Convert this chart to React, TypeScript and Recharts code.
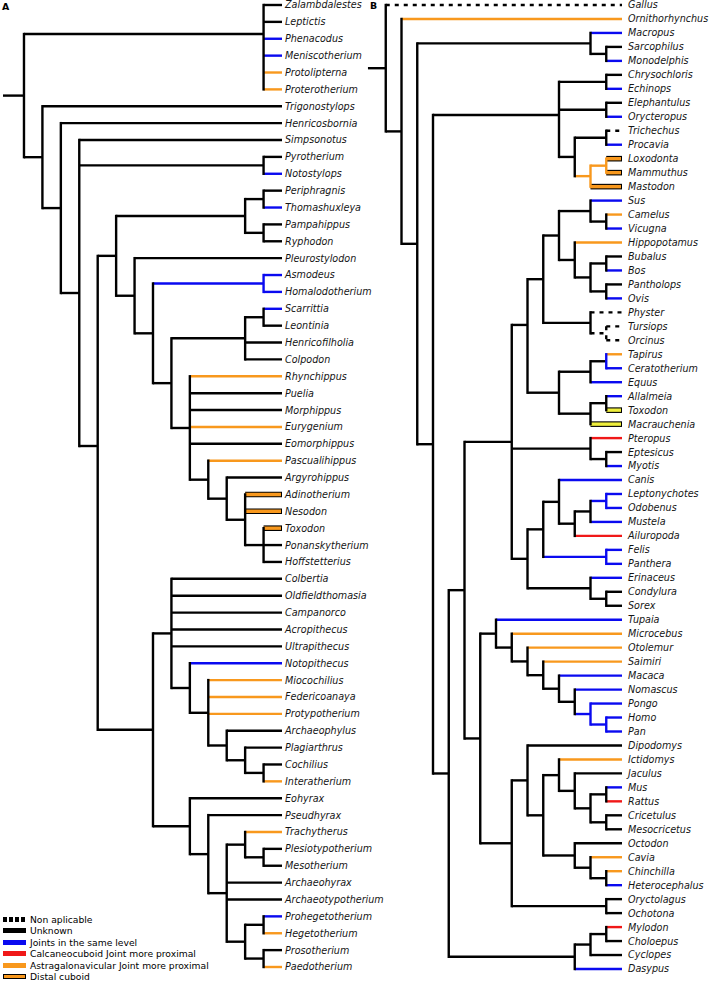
import React from 'react';
import { ScatterChart, Scatter, XAxis, YAxis, ReferenceLine } from 'recharts';

// ---------------- DATA ----------------
// Topologies in Newick form. Branch codes: k unknown, b same level, r calcaneocuboid,
// o astragalonavicular, n non applicable, d distal cuboid, y distal cuboid (yellow).
// ":X" stem style, "/X" vertical style, "#L" explicit level, "@I" anchor (leaf index units).

const cladeA_top =
  '(Zalambdalestes,Leptictis,Phenacodus:b,Meniscotherium:b,Protolipterna:o,Proterotherium:o)@1.72';
const cladeA_notohippids =
  '(Rhynchippus:o,Puelia,Morphippus,Eurygenium:o,Eomorphippus,(Pascualihippus:o,(Argyrohippus,(Adinotherium:d,Nesodon:d,(Toxodon:d,Ponanskytherium,Hoffstetterius)))))';
const cladeA_toxodonts = `(((Periphragnis,Thomashuxleya:b),(Pampahippus,Ryphodon)),(Pleurostylodon,((Asmodeus:b,Homalodotherium:b):b,(((Scarrittia:b,Leontinia),Henricofilholia,Colpodon),${cladeA_notohippids}))))`;
const cladeA_typotheres =
  '((Colbertia,Oldfieldthomasia,Campanorco,Acropithecus,Ultrapithecus,(Notopithecus:b,(Miocochilius:o,Federicoanaya:o,Protypotherium:o,(Archaeophylus,(Plagiarthrus,(Cochilius,Interatherium:o)))))),(Eohyrax,(Pseudhyrax,((Trachytherus:o,(Plesiotypotherium,Mesotherium)),Archaeohyrax,Archaeotypotherium,((Prohegetotherium:b,Hegetotherium:o),(Prosotherium,Paedotherium:o))))))';
const treeA = `(${cladeA_top},(Trigonostylops,(Henricosbornia,(Simpsonotus,(Pyrotherium,Notostylops:b),(${cladeA_toxodonts},${cladeA_typotheres})@26.13))))`;

const cladeB_marsupials = '(Macropus:b,(Sarcophilus,Monodelphis:b))';
const cladeB_afrotheria =
  '((Chrysochloris,Echinops:b),(Elephantulus,Orycteropus:b),((Trichechus:n,Procavia:b),((Loxodonta:d,Mammuthus:d):o,Mastodon:d):o))@7.87';
const cladeB_cetartio =
  '(((Sus:b,(Camelus:o,Vicugna:b)),(Hippopotamus:o,((Bubalus,Bos:b),(Pantholops,Ovis:b)))),(Physter:n,(Tursiops:n,Orcinus:n):n))';
const cladeB_perisso =
  '(((Tapirus:o,Ceratotherium:b)/b,Equus:b),((Allalmeia:b,Toxodon:y),Macrauchenia:y))#4';
const cladeB_bats = '(Pteropus:r,(Eptesicus,Myotis:b))';
const cladeB_carnEuli =
  '(((Canis:b,(((Leptonychotes:b,Odobenus:b):b,Mustela:b),Ailuropoda:r)),(Felis:b,Panthera:b):b),(Erinaceus:b,(Condylura,Sorex)))';
const cladeB_laurasia = `((${cladeB_cetartio},${cladeB_perisso})@22.9,${cladeB_bats},${cladeB_carnEuli})`;
const cladeB_primates =
  '(Tupaia:b,(Microcebus:o,(Otolemur:o,(Saimiri:o,(Macaca:b,(Nomascus:b,(Pongo:b,(Homo:b,Pan:b):b):b))))))';
const cladeB_rodents =
  '(Dipodomys,((Ictidomys:o,(Jaculus,((Mus:b,Rattus:r),(Cricetulus,Mesocricetus)))),(Octodon,(Cavia:o,(Chinchilla:o,Heterocephalus:b)))))';
const cladeB_glires = `(${cladeB_rodents},(Oryctolagus,Ochotona))`;
const cladeB_xenarthra = '(((Mylodon:r,Choloepus),Cyclopes),Dasypus:b)';
const treeB = `(Gallus:n,(Ornithorhynchus:o,(${cladeB_marsupials},(${cladeB_afrotheria},((${cladeB_laurasia},(${cladeB_primates},${cladeB_glires})),${cladeB_xenarthra})))))`;

const legendItems = [
  { label: 'Non aplicable', code: 'n' },
  { label: 'Unknown', code: 'k' },
  { label: 'Joints in the same level', code: 'b' },
  { label: 'Calcaneocuboid Joint more proximal', code: 'r' },
  { label: 'Astragalonavicular Joint more proximal', code: 'o' },
  { label: 'Distal cuboid', code: 'd' },
];

const palette: Record<string, string> = {
  k: '#000000',
  b: '#0a0af0',
  r: '#f01818',
  o: '#f8981d',
  n: '#000000',
  d: '#f8981d',
  y: '#eeee3c',
};

// ---------------- TREE UTILITIES ----------------
type TNode = {
  name?: string;
  children: TNode[];
  stem: string;
  vert?: string;
  level?: number;
  at?: number;
  h: number;
  y: number;
};

function parseNewick(s: string): TNode {
  const src = s.replace(/\s+/g, '');
  let i = 0;
  const ANN = ':/#@';
  const readAnnot = (n: TNode) => {
    while (i < src.length && ANN.includes(src[i])) {
      const k = src[i++];
      let v = '';
      while (i < src.length && !',()'.includes(src[i]) && !ANN.includes(src[i])) v += src[i++];
      if (k === ':') n.stem = v;
      else if (k === '/') n.vert = v;
      else if (k === '#') n.level = parseFloat(v);
      else n.at = parseFloat(v);
    }
  };
  const node = (): TNode => {
    const n: TNode = { children: [], stem: 'k', h: 0, y: 0 };
    if (src[i] === '(') {
      i++;
      n.children.push(node());
      while (src[i] === ',') {
        i++;
        n.children.push(node());
      }
      i++;
    } else {
      let nm = '';
      while (i < src.length && !',():/#@'.includes(src[i])) nm += src[i++];
      n.name = nm;
    }
    readAnnot(n);
    return n;
  };
  return node();
}

function layoutTree(n: TNode, names: string[]) {
  if (!n.children.length) {
    n.y = names.length;
    n.h = 0;
    names.push(n.name || '');
    return;
  }
  n.children.forEach((c) => layoutTree(c, names));
  n.h = n.level ?? 1 + Math.max(...n.children.map((c) => c.h));
  const f = n.children[0];
  const l = n.children[n.children.length - 1];
  n.y = n.at ?? (f.y + l.y) / 2;
}

type Seg = { x1: number; x2: number; y1: number; y2: number; s: string; v: boolean };

function buildSegments(root: TNode, stub: number): Seg[] {
  const hs: Seg[] = [];
  const vs: Seg[] = [];
  hs.push({ x1: root.h + stub, x2: root.h, y1: root.y, y2: root.y, s: 'k', v: false });
  const rec = (n: TNode) => {
    if (!n.children.length) return;
    const f = n.children[0];
    const l = n.children[n.children.length - 1];
    vs.push({ x1: n.h, x2: n.h, y1: f.y, y2: l.y, s: n.vert ?? n.stem, v: true });
    n.children.forEach((c) => {
      hs.push({ x1: n.h, x2: c.h, y1: c.y, y2: c.y, s: c.stem, v: false });
      rec(c);
    });
  };
  rec(root);
  return [...hs, ...vs];
}

// ---------------- RENDERING ----------------
const FONT = "'DejaVu Sans', 'Liberation Sans', sans-serif";
const LW = 2.4;

type PanelCfg = {
  left: number;
  width: number;
  axisWidth: number;
  pxPerLevel: number;
  top: number;
  bottom: number;
  gap: number;
  stub: number;
};

function TreePanel({ tree, cfg }: { tree: string; cfg: PanelCfg }) {
  const root = parseNewick(tree);
  const names: string[] = [];
  layoutTree(root, names);
  const segs = buildSegments(root, cfg.stub);
  const tips = names.map((nm, i) => ({ h: 0, y: i, name: nm }));
  const ticks = names.map((_, i) => i);
  const plotW = cfg.width - cfg.axisWidth;
  const xMax = plotW / cfg.pxPerLevel;
  const unit = 1 / cfg.pxPerLevel;

  const lines: React.ReactNode[] = [];
  segs.forEach((g, i) => {
    const color = palette[g.s] || '#000';
    if (g.s === 'd' || g.s === 'y') {
      lines.push(
        <ReferenceLine
          key={`bo${i}`}
          segment={[{ x: g.x1, y: g.y1 }, { x: g.x2, y: g.y2 }]}
          stroke="#000"
          strokeWidth={5.6}
          ifOverflow="visible"
        />
      );
      lines.push(
        <ReferenceLine
          key={`bf${i}`}
          segment={[{ x: g.x1, y: g.y1 }, { x: g.x2 + unit, y: g.y2 }]}
          stroke={color}
          strokeWidth={3.4}
          ifOverflow="visible"
        />
      );
    } else {
      const dashed = g.s === 'n';
      lines.push(
        <ReferenceLine
          key={`s${i}`}
          segment={[{ x: g.x1, y: g.y1 }, { x: g.x2, y: g.y2 }]}
          stroke={color}
          strokeWidth={LW}
          strokeDasharray={dashed ? '4 5' : undefined}
          strokeLinecap={g.v && !dashed ? 'square' : 'butt'}
          ifOverflow="visible"
        />
      );
    }
  });

  const LeafTick = (props: any) => {
    const { x, y, payload } = props;
    return (
      <text
        x={x}
        y={y}
        dy="0.36em"
        textAnchor="start"
        fontFamily={FONT}
        fontStyle="italic"
        fontSize={9.6}
        fill="#151515"
      >
        {names[payload.value]}
      </text>
    );
  };

  return (
    <div style={{ position: 'absolute', left: cfg.left, top: 0 }}>
      <ScatterChart
        width={cfg.width}
        height={981}
        margin={{ top: cfg.top, right: 0, bottom: cfg.bottom, left: 0 }}
      >
        <XAxis type="number" dataKey="h" domain={[0, xMax]} reversed hide allowDataOverflow />
        <YAxis
          type="number"
          dataKey="y"
          orientation="right"
          domain={[0, names.length - 1]}
          reversed
          ticks={ticks}
          interval={0}
          width={cfg.axisWidth}
          tickLine={false}
          axisLine={false}
          tickSize={0}
          tickMargin={cfg.gap}
          tick={(p: any) => <LeafTick {...p} />}
          allowDataOverflow
        />
        {lines}
        <Scatter data={tips} isAnimationActive={false} shape={() => <g />} />
      </ScatterChart>
    </div>
  );
}

function Swatch({ code }: { code: string }) {
  const base: React.CSSProperties = { width: 23, height: 5, boxSizing: 'border-box' };
  if (code === 'n')
    return (
      <div
        style={{
          ...base,
          background: 'repeating-linear-gradient(90deg, #000 0px, #000 4px, #fff 4px, #fff 6px)',
        }}
      />
    );
  if (code === 'd') return <div style={{ ...base, background: palette.d, border: '1px solid #000' }} />;
  return <div style={{ ...base, background: palette[code] }} />;
}

export default function App() {
  const cfgA: PanelCfg = {
    left: 0,
    width: 400,
    axisWidth: 118,
    pxPerLevel: 18.43,
    top: 5,
    bottom: 14,
    gap: 3,
    stub: 1.14,
  };
  const cfgB: PanelCfg = {
    left: 360,
    width: 349,
    axisWidth: 87,
    pxPerLevel: 15.75,
    top: 5,
    bottom: 12,
    gap: 6,
    stub: 1.13,
  };
  return (
    <div
      style={{
        position: 'absolute',
        left: 0,
        top: 0,
        width: 709,
        height: 981,
        background: '#fff',
        overflow: 'hidden',
        fontFamily: FONT,
      }}
    >
      <TreePanel tree={treeA} cfg={cfgA} />
      <TreePanel tree={treeB} cfg={cfgB} />
      <div style={{ position: 'absolute', left: 2, top: 1, fontWeight: 'bold', fontSize: 9.4 }}>A</div>
      <div style={{ position: 'absolute', left: 370, top: 0, fontWeight: 'bold', fontSize: 9.4 }}>B</div>
      <div style={{ position: 'absolute', left: 3, top: 913.6 }}>
        {legendItems.map((it) => (
          <div
            key={it.label}
            style={{ display: 'flex', alignItems: 'center', height: 11.45, fontSize: 9.2, color: '#000' }}
          >
            <Swatch code={it.code} />
            <span style={{ marginLeft: 4, whiteSpace: 'nowrap', lineHeight: '11px' }}>{it.label}</span>
          </div>
        ))}
      </div>
    </div>
  );
}
